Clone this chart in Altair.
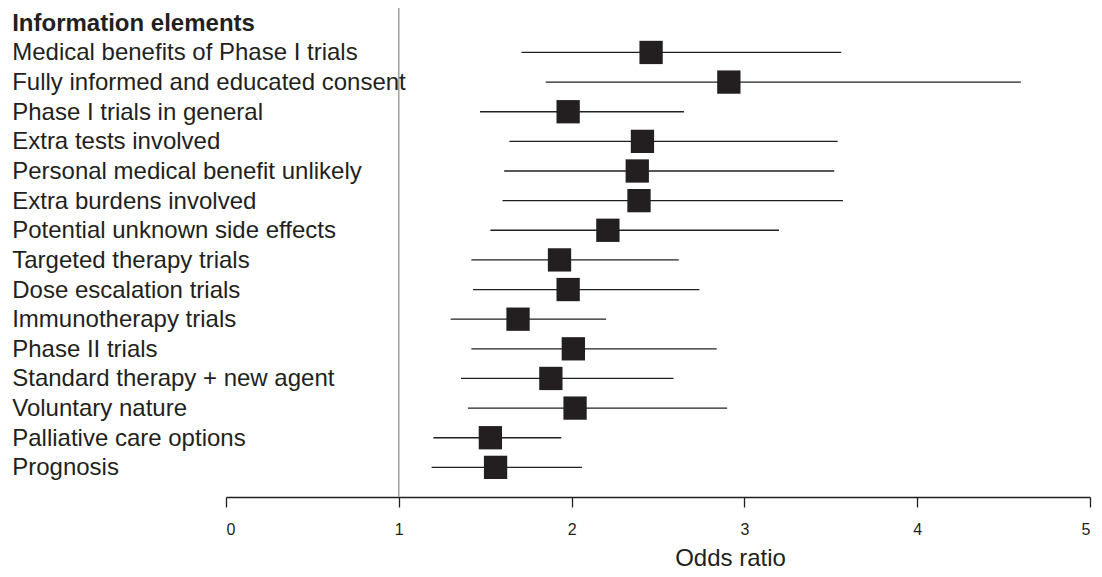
import altair as alt
import pandas as pd

header = "Information elements"
labels = [
    "Medical benefits of Phase I trials",
    "Fully informed and educated consent",
    "Phase I trials in general",
    "Extra tests involved",
    "Personal medical benefit unlikely",
    "Extra burdens involved",
    "Potential unknown side effects",
    "Targeted therapy trials",
    "Dose escalation trials",
    "Immunotherapy trials",
    "Phase II trials",
    "Standard therapy + new agent",
    "Voluntary nature",
    "Palliative care options",
    "Prognosis",
]
odds = [2.46, 2.91, 1.98, 2.41, 2.38, 2.39, 2.21, 1.93, 1.98, 1.69, 2.01, 1.88, 2.02, 1.53, 1.56]
lower = [1.71, 1.85, 1.47, 1.64, 1.61, 1.60, 1.53, 1.42, 1.43, 1.30, 1.42, 1.36, 1.40, 1.20, 1.19]
upper = [3.56, 4.60, 2.65, 3.54, 3.52, 3.57, 3.20, 2.62, 2.74, 2.20, 2.84, 2.59, 2.90, 1.94, 2.06]
x_ticks = [0, 1, 2, 3, 4, 5]
reference = 1

df = pd.DataFrame({
    "label": labels,
    "row": list(range(1, len(labels) + 1)),
    "or": odds,
    "lo": lower,
    "hi": upper,
})
hdr = pd.DataFrame({"label": [header], "row": [0]})
ref = pd.DataFrame({"x": [reference]})

DARK = "#231f20"
FONT = "Liberation Sans"
W, H = 864, 489
LEFT = 218
TEXT_X = 14 - 1.8 - 8 - LEFT

xscale = alt.Scale(domain=[0, 5], nice=False, zero=False)
yscale = alt.Scale(domain=[-0.5, 16], reverse=True, nice=False, zero=False)

base = alt.Chart(df)

ci = base.mark_rule(color=DARK, strokeWidth=1.3).encode(
    x=alt.X("lo:Q", scale=xscale,
            axis=alt.Axis(values=x_ticks, format="d", title="Odds ratio", grid=False,
                          domainColor=DARK, domainWidth=1.3,
                          tickColor=DARK, tickWidth=1.3, tickSize=10,
                          labelFont=FONT, labelFontSize=16,
                          labelColor=DARK, labelPadding=14,
                          titleFont=FONT, titleFontSize=24, titleFontWeight="normal",
                          titleColor=DARK, titleX=504, titleY=68,
                          titleBaseline="alphabetic", titleAlign="center",
                          titleAnchor="start")),
    x2="hi:Q",
    y=alt.Y("row:Q", scale=yscale, axis=None),
)

refline = alt.Chart(ref).mark_rule(color="#a0a0a0", strokeWidth=1.5).encode(
    x=alt.X("x:Q", scale=xscale),
    y=alt.value(-1),
    y2=alt.value(H),
)

squares = base.mark_square(size=543, color=DARK, opacity=1, filled=True).encode(
    x=alt.X("or:Q", scale=xscale),
    y=alt.Y("row:Q", scale=yscale),
)

text = base.mark_text(align="left", baseline="middle", font=FONT, fontSize=24,
                      color=DARK, dy=1).encode(
    x=alt.value(TEXT_X),
    y=alt.Y("row:Q", scale=yscale),
    text="label:N",
)

head = alt.Chart(hdr).mark_text(align="left", baseline="middle", font=FONT, fontSize=24,
                                fontWeight="bold", color=DARK, dy=1).encode(
    x=alt.value(TEXT_X),
    y=alt.Y("row:Q", scale=yscale),
    text="label:N",
)

chart = alt.layer(refline, ci, squares, text, head).properties(
    width=W, height=H,
    autosize=alt.AutoSizeParams(type="none"),
    padding={"left": LEFT, "top": 0, "right": 4, "bottom": 72},
).configure_view(stroke=None)

chart.save("out.html", embed_options={"renderer": "svg", "actions": False})
